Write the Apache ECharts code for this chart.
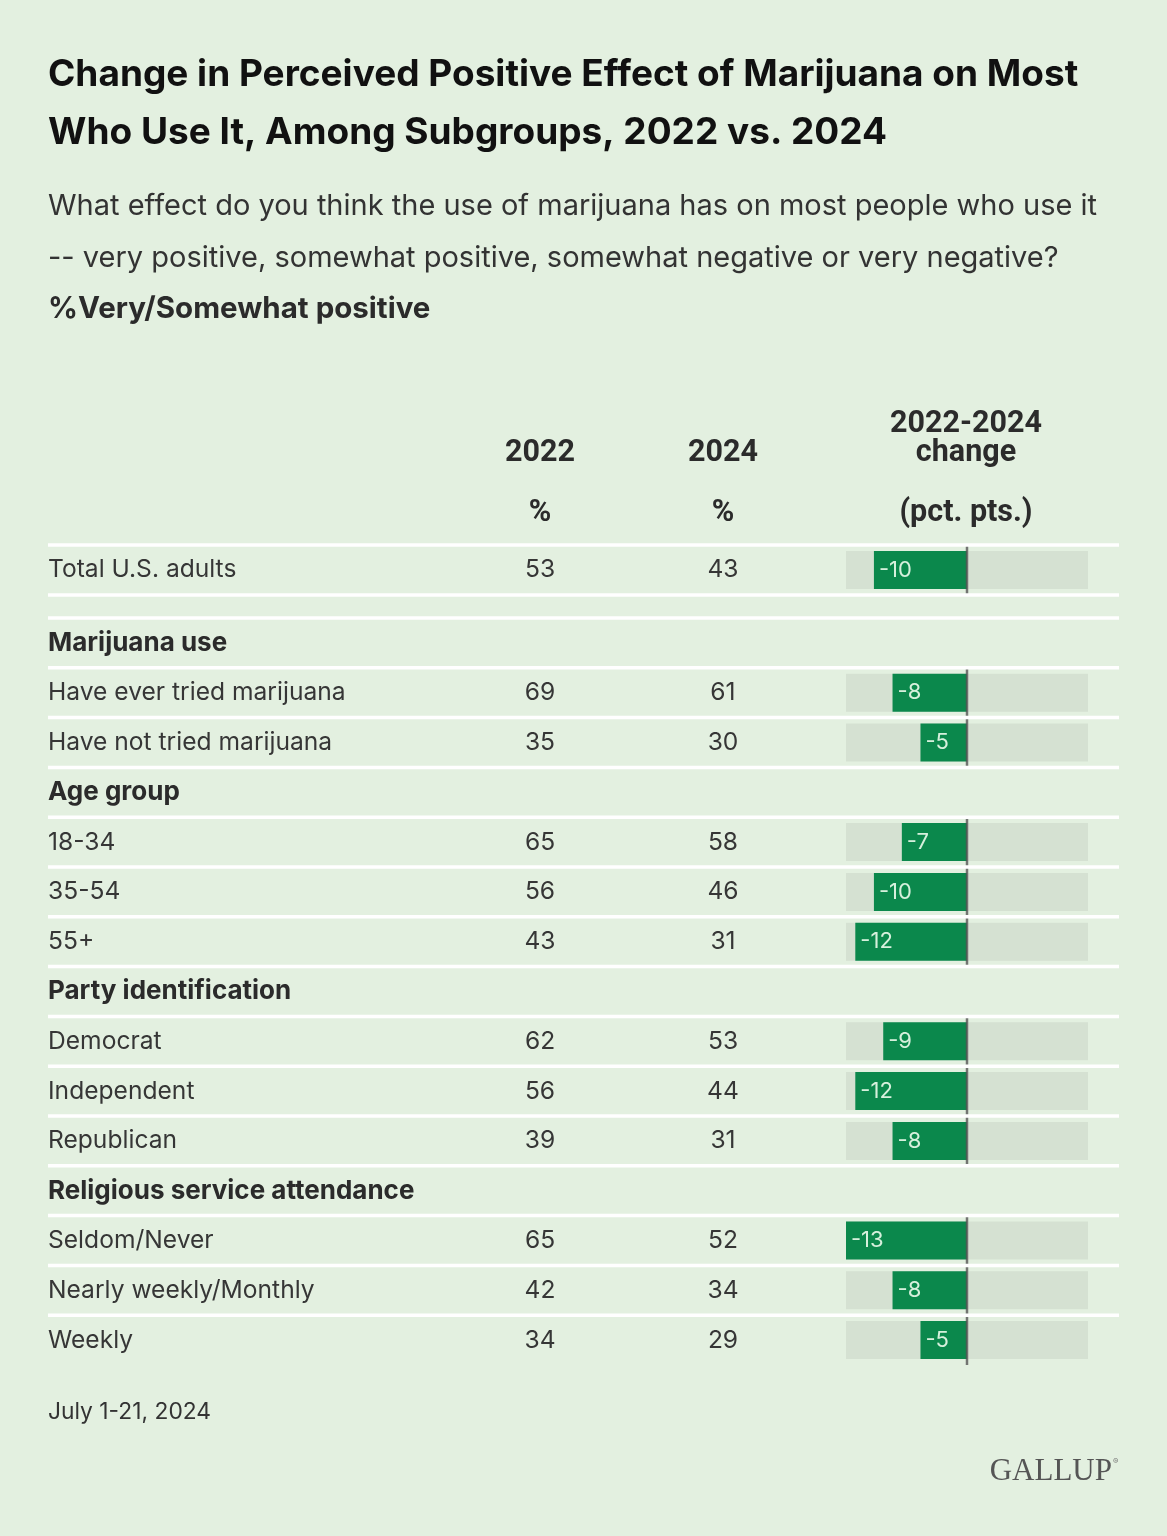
<!DOCTYPE html>
<html>
<head>
<meta charset="utf-8">
<script src="https://cdn.jsdelivr.net/npm/echarts@6/dist/echarts.min.js"></script>
<style>
html,body{margin:0;padding:0;background:#e3f0e0;}
#chart{width:1167px;height:1536px;}
</style>
</head>
<body>
<div id="chart"></div>
<script>
// ---- data ----
const totalLabel = ['Total U.S. adults'];
const total2022 = [53];
const total2024 = [43];
const totalChange = [-10];

const rowLabels = ['Marijuana use','Have ever tried marijuana','Have not tried marijuana',
  'Age group','18-34','35-54','55+',
  'Party identification','Democrat','Independent','Republican',
  'Religious service attendance','Seldom/Never','Nearly weekly/Monthly','Weekly'];
const headerRows = [true,false,false,true,false,false,false,true,false,false,false,true,false,false,false];
const values2022 = [null,69,35,null,65,56,43,null,62,56,39,null,65,42,34];
const values2024 = [null,61,30,null,58,46,31,null,53,44,31,null,52,34,29];
const changeValues = [null,-8,-5,null,-7,-10,-12,null,-9,-12,-8,null,-13,-8,-5];

const colHeaders = {c2022:['2022','%'], c2024:['2024','%'], change:['2022-2024','change','(pct. pts.)']};
const scaleMin = -13, scaleMax = 13;

// ---- layout ----
const FONT = 'Inter, "Noto Sans", sans-serif';
const BG = '#e3f0e0', TRACK = '#d5e1d2', GREEN = '#0b884c', TXT = '#363636';
const gLeft = 846, gWidth = 242;
const labelX = 48, col2022X = 540, col2024X = 723;
const g0 = {top:545, height:50};
const g1 = {top:618, height:747};
const barW = 38;

const chart = echarts.init(document.getElementById('chart'), null, {renderer:'canvas'});

function yAxesFor(gi, labels, v22, v24, isHead){
  const base = {type:'category', gridIndex:gi, inverse:true, position:'left',
    axisLine:{show:false}, axisTick:{show:false}, splitLine:{show:false}};
  return [
    Object.assign({}, base, {data:labels, offset:gLeft-labelX,
      axisLabel:{margin:0, align:'left', fontFamily:FONT, fontSize:24.6, color:TXT,
        formatter:(v,i)=> isHead[i] ? '{b|'+v+'}' : v,
        rich:{b:{fontFamily:FONT, fontSize:26, fontWeight:'bold', color:'#2b2b2b'}}}}),
    Object.assign({}, base, {data:v22.map(v=>v==null?'':String(v)), offset:gLeft-col2022X,
      axisLabel:{margin:0, align:'center', fontFamily:FONT, fontSize:24.6, color:TXT}}),
    Object.assign({}, base, {data:v24.map(v=>v==null?'':String(v)), offset:gLeft-col2024X,
      axisLabel:{margin:0, align:'center', fontFamily:FONT, fontSize:24.6, color:TXT}})
  ];
}

function seriesFor(gi, yIdx, changes, band){
  const common = {type:'bar', xAxisIndex:gi, yAxisIndex:yIdx, barWidth:barW, barGap:'-100%', silent:true};
  return [
    Object.assign({}, common, {stack:'track'+gi, itemStyle:{color:TRACK},
      data:changes.map(v=>v==null?'-':scaleMin)}),
    Object.assign({}, common, {stack:'track'+gi, itemStyle:{color:TRACK},
      data:changes.map(v=>v==null?'-':scaleMax)}),
    Object.assign({}, common, {itemStyle:{color:GREEN},
      data:changes.map(v=>v==null?'-':v),
      label:{show:true, position:'insideLeft', distance:5, color:'#d6f0dc',
        fontFamily:FONT, fontSize:22, formatter:p=>String(p.value)}}),
    {type:'scatter', xAxisIndex:gi, yAxisIndex:yIdx, symbol:'rect', symbolSize:[2.5, band],
      itemStyle:{color:'#555555'}, silent:true, z:5,
      data:changes.map((v,i)=>v==null?null:[0,i]).filter(d=>d)}
  ];
}

const allHeadTotal = [false];
const band1 = g1.height/rowLabels.length;

// separator lines
const sepYs = [g0.top, g0.top+g0.height, g1.top];
for(let i=1;i<rowLabels.length;i++) sepYs.push(g1.top + i*band1);
const graphics = sepYs.map(y=>({type:'rect', z:100, silent:true,
  shape:{x:48, y:y-1.75, width:1071, height:3.5}, style:{fill:'#ffffff'}}));

function hdr(text, x, y){
  return {type:'text', x:x, y:y, z:100, style:{text:text, fontFamily:'Roboto, sans-serif', fontWeight:'bold',
    fontSize:30.5, fill:'#2b2b2b', align:'center', verticalAlign:'middle'}};
}
graphics.push(hdr(colHeaders.c2022[0], col2022X, 453));
graphics.push(hdr(colHeaders.c2022[1], col2022X, 513));
graphics.push(hdr(colHeaders.c2024[0], col2024X, 453));
graphics.push(hdr(colHeaders.c2024[1], col2024X, 513));
graphics.push(hdr(colHeaders.change[0], 966, 424));
graphics.push(hdr(colHeaders.change[1], 966, 453));
graphics.push(hdr(colHeaders.change[2], 966, 513));

// titles
graphics.push({type:'text', x:48, y:75, style:{text:'Change in Perceived Positive Effect of Marijuana on Most',
  fontFamily:FONT, fontWeight:'bold', fontSize:37, fill:'#111', verticalAlign:'middle'}});
graphics.push({type:'text', x:48, y:133, style:{text:'Who Use It, Among Subgroups, 2022 vs. 2024',
  fontFamily:FONT, fontWeight:'bold', fontSize:37, fill:'#111', verticalAlign:'middle'}});
graphics.push({type:'text', x:48, y:206, style:{text:'What effect do you think the use of marijuana has on most people who use it',
  fontFamily:FONT, fontSize:29, fill:'#333', verticalAlign:'middle'}});
graphics.push({type:'text', x:48, y:258, style:{text:'-- very positive, somewhat positive, somewhat negative or very negative?',
  fontFamily:FONT, fontSize:29, fill:'#333', verticalAlign:'middle'}});
graphics.push({type:'text', x:48, y:309, style:{text:'%Very/Somewhat positive',
  fontFamily:FONT, fontWeight:'bold', fontSize:29.5, fill:'#2b2b2b', verticalAlign:'middle'}});
graphics.push({type:'text', x:48, y:1412, style:{text:'July 1-21, 2024',
  fontFamily:FONT, fontSize:22.8, fill:'#333', verticalAlign:'middle'}});
graphics.push({type:'text', x:1112, y:1472, style:{text:'GALLUP',
  fontFamily:'"Liberation Serif", "DejaVu Serif", serif', fontSize:31, fill:'#555', align:'right', verticalAlign:'middle'}});
graphics.push({type:'text', x:1113, y:1462, style:{text:'®',
  fontFamily:FONT, fontSize:8, fill:'#777', align:'left', verticalAlign:'middle'}});

const option = {
  backgroundColor: BG,
  animation:false,
  grid:[
    {left:gLeft, width:gWidth, top:g0.top, height:g0.height, containLabel:false},
    {left:gLeft, width:gWidth, top:g1.top, height:g1.height, containLabel:false}
  ],
  xAxis:[0,1].map(gi=>({type:'value', gridIndex:gi, min:scaleMin, max:scaleMax, show:false})),
  yAxis:[].concat(
    yAxesFor(0, totalLabel, total2022, total2024, allHeadTotal),
    yAxesFor(1, rowLabels, values2022, values2024, headerRows)
  ),
  series:[].concat(
    seriesFor(0, 0, totalChange, g0.height),
    seriesFor(1, 3, changeValues, band1)
  ),
  graphic: graphics
};
chart.setOption(option);
</script>
</body>
</html>
